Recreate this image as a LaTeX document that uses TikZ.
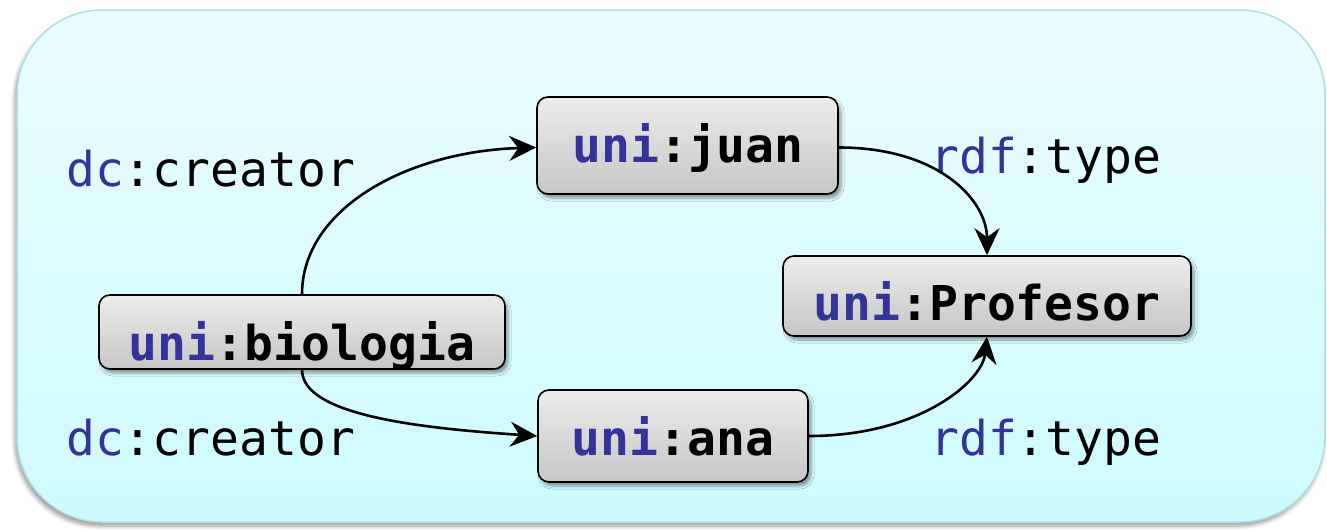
\documentclass[tikz,border=0pt]{standalone}
\usepackage{fontspec}
\newfontfamily\monofont{DejaVu Sans Mono}
\usetikzlibrary{shadows.blur,arrows.meta,calc}
\definecolor{pfx}{RGB}{51,51,153}
\definecolor{bgtop}{RGB}{234,253,255}
\definecolor{bgbot}{RGB}{206,251,255}
\definecolor{bgline}{RGB}{175,222,228}
\definecolor{boxtop}{RGB}{236,236,236}
\definecolor{boxbot}{RGB}{198,198,198}
\tikzset{
  panel/.style={draw=bgline, line width=1.5pt, rounded corners=85pt, top color=bgtop, bottom color=bgbot,
    blur shadow={shadow xshift=-2pt, shadow yshift=-4pt, shadow blur steps=6, shadow blur radius=4pt}},
  rbox/.style={draw=black, line width=1.6pt, rounded corners=11pt, top color=boxtop, bottom color=boxbot,
    inner sep=0pt,
    blur shadow={shadow xshift=3pt, shadow yshift=-4pt, shadow blur steps=6, shadow blur radius=3pt}},
  btxt/.style={anchor=base, inner sep=0pt, font=\monofont\bfseries\fontsize{48}{50}\selectfont},
  ltxt/.style={anchor=base west, inner sep=0pt, font=\monofont\fontsize{48}{50}\selectfont},
  arr/.style={-{Stealth[length=27pt,width=25pt,inset=9pt]}, line width=2.6pt, black},
}
\newcommand{\pf}[1]{\textcolor{pfx}{#1}}
\begin{document}
\begin{tikzpicture}[x=1pt,y=-1pt]
\useasboundingbox (0,0) rectangle (1327,530);
\path[panel] (17,10) rectangle (1325,522);
% boxes
\node[rbox, minimum width=406pt, minimum height=74pt] (bio) at (302,332) {};
\node[rbox, minimum width=301pt, minimum height=97pt] (juan) at (687.5,145.5) {};
\node[rbox, minimum width=270pt, minimum height=92pt] (ana) at (673,436) {};
\node[rbox, minimum width=408pt, minimum height=80pt] (prof) at (987,296) {};
% texts
\node[btxt] (biot) at (302,360) {\pf{uni}:biologia};
\node[btxt] (juant) at (688,162) {\pf{uni}:juan};
\node[btxt] (anat) at (673,455) {\pf{uni}:ana};
\node[btxt] (proft) at (987,320) {\pf{uni}:Profesor};
% edge labels
\node[ltxt] (l1) at (66,186) {\pf{dc}:creator};
\node[ltxt] (l2) at (66,455) {\pf{dc}:creator};
\node[ltxt] (l3) at (930,173) {\pf{rdf}:type};
\node[ltxt] (l4) at (930,455) {\pf{rdf}:type};
% connectors
\draw[arr] (bio.north) .. controls ($(bio.north)+(0,-85)$) and ($(juan.west)+(-130,6)$) .. ($(juan.west)+(0,2)$);
\draw[arr] (bio.south) .. controls ($(bio.south)+(0,45)$) and ($(ana.west)+(-120,-8)$) .. (ana.west);
\draw[arr] ($(juan.east)+(0,2)$) .. controls ($(juan.east)+(100,2)$) and ($(prof.north)+(0,-55)$) .. (prof.north);
\draw[arr] (ana.east) .. controls ($(ana.east)+(110,0)$) and ($(prof.south)+(-5,45)$) .. (prof.south);
\end{tikzpicture}
\end{document}
